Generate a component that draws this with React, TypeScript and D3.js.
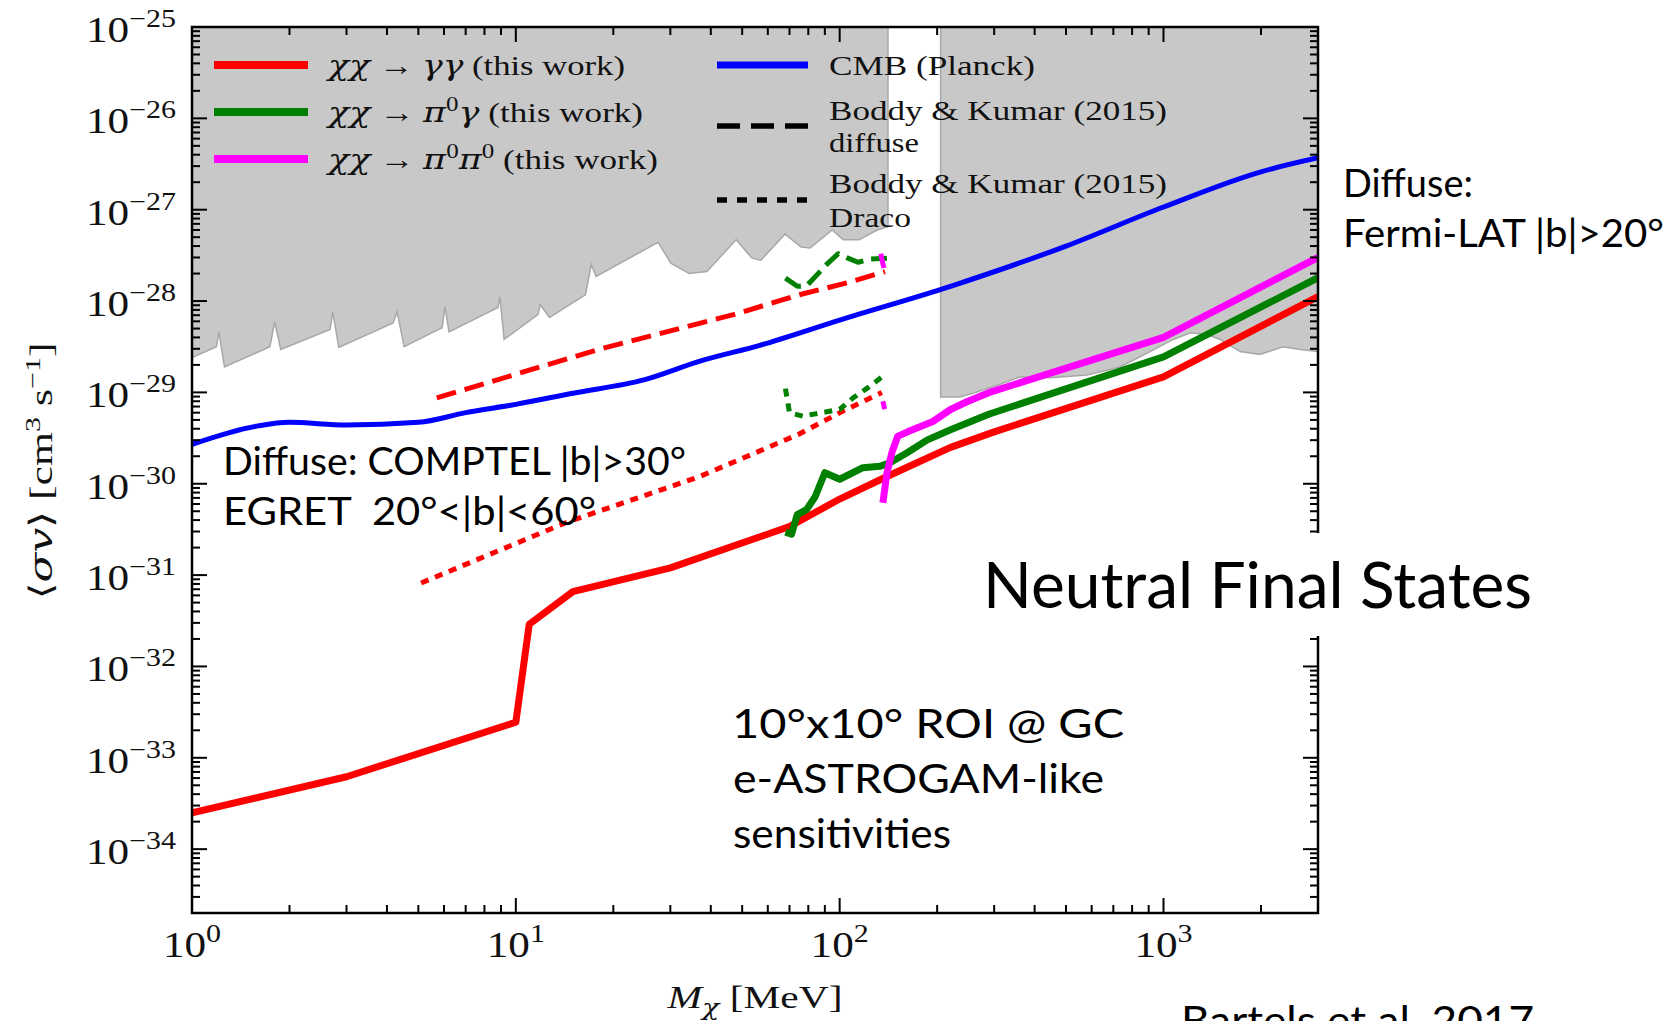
import * as d3 from "d3";

// chi chi -> gamma gamma (this work)
const ggMass = [1, 3, 10, 11, 15, 30, 70, 100, 140, 220, 300, 1000, 3000];
const ggSigma = [2.5e-34, 6.2e-34, 2.45e-33, 2.9e-32, 6.6e-32, 1.2e-31, 3.4e-31, 6.8e-31, 1.2e-30, 2.5e-30, 3.7e-30, 1.48e-29, 1.12e-28];

// chi chi -> pi0 gamma (this work)
const pgMass = [68, 71, 74, 79, 84, 90, 100, 118, 133, 143, 162, 186, 220, 290, 1000, 3000];
const pgSigma = [2.95e-31, 2.8e-31, 4.6e-31, 5.2e-31, 7.2e-31, 1.32e-30, 1.12e-30, 1.5e-30, 1.55e-30, 1.7e-30, 2.2e-30, 3.0e-30, 3.9e-30, 5.8e-30, 2.45e-29, 1.8e-28];

// chi chi -> pi0 pi0 (this work)
const ppMass = [136, 140, 145, 151, 162, 177, 194, 220, 247, 290, 1000, 3000];
const ppSigma = [6.2e-31, 1.32e-30, 2.2e-30, 3.3e-30, 3.7e-30, 4.2e-30, 4.8e-30, 6.5e-30, 7.9e-30, 1.0e-29, 4.0e-29, 3.0e-28];

// CMB (Planck)
const cmbMass = [1, 1.6, 2, 3, 5, 7, 10, 15, 25, 37, 57, 100, 220, 500, 1000, 2000, 3000];
const cmbSigma = [2.7e-30, 4.3e-30, 4.7e-30, 4.4e-30, 4.7e-30, 6.0e-30, 7.4e-30, 9.8e-30, 1.38e-29, 2.2e-29, 3.3e-29, 6.2e-29, 1.45e-28, 4.0e-28, 1.07e-27, 2.6e-27, 3.7e-27];

// Boddy & Kumar (2015) diffuse
const bkDiffGgMass = [5.7, 18, 47, 75, 108, 138];
const bkDiffGgSigma = [8.7e-30, 2.95e-29, 7.1e-29, 1.17e-28, 1.62e-28, 2.1e-28];
const bkDiffPgMass = [68, 74, 79, 91, 99, 106, 114, 124, 140];
const bkDiffPgSigma = [1.78e-28, 1.45e-28, 1.46e-28, 2.5e-28, 3.3e-28, 2.95e-28, 2.66e-28, 2.88e-28, 2.95e-28];
const bkDiffPpMass = [134, 135.5, 137];
const bkDiffPpSigma = [3.3e-28, 2.7e-28, 2.3e-28];

// Boddy & Kumar (2015) Draco
const bkDracoGgMass = [5.1, 14.4, 37, 75, 102, 135];
const bkDracoGgSigma = [8.2e-32, 3.8e-31, 1.2e-30, 3.5e-30, 6.2e-30, 1.0e-29];
const bkDracoPgMass = [68, 70, 77, 88, 100, 110, 122, 136];
const bkDracoPgSigma = [1.1e-29, 6.0e-30, 5.5e-30, 6.0e-30, 6.5e-30, 8.7e-30, 1.12e-29, 1.5e-29];
const bkDracoPpMass = [136, 137, 138];
const bkDracoPpSigma = [8.0e-30, 7.1e-30, 6.4e-30];

// excluded regions: COMPTEL / EGRET diffuse and Fermi-LAT diffuse (lower edges)
const comptelMass = [1, 1.19, 1.21, 1.26, 1.74, 1.8, 1.88, 2.67, 2.72, 2.84, 4.18, 4.3, 4.52, 5.92, 6.04, 6.22, 8.81, 8.93, 9.2, 11.7, 11.9, 12.7, 16.4, 17.1, 17.7, 27.5, 30.1, 34.3, 38.9, 47.9, 53.6, 57.1, 67.8, 76, 81.1, 94.8, 102.6, 114.8, 130.6, 141];
const comptelSigma = [2.4e-29, 3.16e-29, 4.6e-29, 1.9e-29, 3.16e-29, 5.9e-29, 2.95e-29, 4.9e-29, 7.6e-29, 3.1e-29, 5.75e-29, 7.6e-29, 3.16e-29, 5.1e-29, 8.7e-29, 4.6e-29, 8.5e-29, 1.12e-28, 3.8e-29, 7.1e-29, 9.1e-29, 6.6e-29, 1.17e-28, 2.5e-28, 1.86e-28, 4.4e-28, 2.6e-28, 2.0e-28, 2.1e-28, 4.7e-28, 2.95e-28, 2.8e-28, 5.4e-28, 3.9e-28, 3.8e-28, 6.0e-28, 4.7e-28, 4.7e-28, 6.0e-28, 6.5e-28];
const fermiMass = [205, 235, 258, 313, 361, 446, 581, 734, 909, 1072, 1209, 1364, 1496, 1725, 1986, 2339, 2642, 3000];
const fermiSigma = [8.9e-30, 8.9e-30, 9.8e-30, 1.23e-29, 1.48e-29, 1.45e-29, 1.55e-29, 1.9e-29, 2.8e-29, 3.8e-29, 4.5e-29, 4.3e-29, 3.8e-29, 2.8e-29, 2.6e-29, 3.16e-29, 2.95e-29, 2.8e-29];

const xDomain = [1, 3000];
const yDomain = [2e-35, 1e-25];

const serif = "'Liberation Serif', 'DejaVu Serif', serif";
const greek = "'DejaVu Serif', serif";
const sans = "Lato, 'Open Sans', sans-serif";

const W = 1680;
const H = 1021;
const left = 192;
const right = 1318;
const top = 27;
const bottom = 913;

type Scale = d3.ScaleLogarithmic<number, number>;

function Series({ mass, sigma, x, y, color, width, dash, curve }: {
  mass: number[]; sigma: number[]; x: Scale; y: Scale; color: string; width: number; dash?: string; curve?: d3.CurveFactory;
}) {
  const d = d3.line<number>()
    .x((m) => x(m))
    .y((_, i) => y(sigma[i]))
    .curve(curve ?? d3.curveLinear)(mass);
  return (
    <path d={d ?? ""} fill="none" stroke={color} strokeWidth={width}
      strokeDasharray={dash} strokeLinejoin="round" strokeLinecap="butt" />
  );
}

function Region({ mass, sigma, x, y }: { mass: number[]; sigma: number[]; x: Scale; y: Scale }) {
  const d = d3.area<number>()
    .x((m) => x(m))
    .y0(y(yDomain[1]))
    .y1((_, i) => y(sigma[i]))(mass);
  return <path d={d ?? ""} fill="#c8c8c8" stroke="#a8a8a8" strokeWidth={1.5} />;
}

const isMajor = (v: number) => Math.abs(Math.log10(v) - Math.round(Math.log10(v))) < 1e-6;
const expLabel = (v: number) => {
  const e = Math.round(Math.log10(v));
  return e < 0 ? `\u2212${-e}` : `${e}`;
};

function Frame({ x, y }: { x: Scale; y: Scale }) {
  const major = 15;
  const minor = 8;
  const xt = x.ticks();
  const yt = y.ticks();
  return (
    <g>
      <g stroke="#000" strokeWidth={2}>
        {xt.map((t) => {
          const len = isMajor(t) ? major : minor;
          const px = x(t);
          return (
            <g key={`xt-${t}`}>
              <line x1={px} x2={px} y1={bottom} y2={bottom - len} />
              <line x1={px} x2={px} y1={top} y2={top + len} />
            </g>
          );
        })}
        {yt.map((t) => {
          const len = isMajor(t) ? major : minor;
          const py = y(t);
          return (
            <g key={`yt-${t}`}>
              <line x1={left} x2={left + len} y1={py} y2={py} />
              <line x1={right} x2={right - len} y1={py} y2={py} />
            </g>
          );
        })}
      </g>
      <rect x={left} y={top} width={right - left} height={bottom - top} fill="none" stroke="#000" strokeWidth={2.5} />
      <g fontFamily={serif} fontSize={36} fill="#111">
        {xt.filter(isMajor).map((t) => (
          <text key={`xl-${t}`} transform={`translate(${x(t)},957) scale(1.2,1)`} textAnchor="middle">
            10<tspan dy={-15} fontSize={25}>{expLabel(t)}</tspan>
          </text>
        ))}
        {yt.filter(isMajor).map((t) => (
          <text key={`yl-${t}`} transform={`translate(${left - 16},${y(t) + 15}) scale(1.2,1)`} textAnchor="end">
            10<tspan dy={-15} fontSize={25}>{expLabel(t)}</tspan>
          </text>
        ))}
      </g>
    </g>
  );
}

function Legend() {
  const gk = { fontStyle: "italic" as const, fontFamily: greek };
  return (
    <g fontFamily={serif} fontSize={28} fill="#111">
      <line x1={214} x2={308} y1={65} y2={65} stroke="#ff0000" strokeWidth={8} />
      <line x1={214} x2={308} y1={112} y2={112} stroke="#008000" strokeWidth={8} />
      <line x1={214} x2={308} y1={159} y2={159} stroke="#ff00ff" strokeWidth={8} />
      <text x={328} y={75} textLength={297} lengthAdjust="spacingAndGlyphs">
        <tspan {...gk}>χχ</tspan> → <tspan {...gk}>γγ</tspan> (this work)
      </text>
      <text x={328} y={122} textLength={315} lengthAdjust="spacingAndGlyphs">
        <tspan {...gk}>χχ</tspan> → <tspan {...gk}>π</tspan><tspan dy={-11} fontSize={20}>0</tspan><tspan dy={11} {...gk}>γ</tspan> (this work)
      </text>
      <text x={328} y={169} textLength={330} lengthAdjust="spacingAndGlyphs">
        <tspan {...gk}>χχ</tspan> → <tspan {...gk}>π</tspan><tspan dy={-11} fontSize={20}>0</tspan><tspan dy={11} {...gk}>π</tspan><tspan dy={-11} fontSize={20}>0</tspan><tspan dy={11}> (this work)</tspan>
      </text>

      <line x1={717} x2={808} y1={65} y2={65} stroke="#0000ff" strokeWidth={7} />
      <line x1={717} x2={808} y1={126} y2={126} stroke="#000" strokeWidth={5.5} strokeDasharray="23 11" />
      <line x1={717} x2={808} y1={200} y2={200} stroke="#000" strokeWidth={5.5} strokeDasharray="10 10" />
      <text x={829} y={75} textLength={206} lengthAdjust="spacingAndGlyphs">CMB (Planck)</text>
      <text x={829} y={120} textLength={338} lengthAdjust="spacingAndGlyphs">Boddy &amp; Kumar (2015)</text>
      <text x={829} y={152} textLength={90} lengthAdjust="spacingAndGlyphs">diffuse</text>
      <text x={829} y={193} textLength={338} lengthAdjust="spacingAndGlyphs">Boddy &amp; Kumar (2015)</text>
      <text x={829} y={227} textLength={82} lengthAdjust="spacingAndGlyphs">Draco</text>
    </g>
  );
}

function Note({ x, y, size, width, children }: { x: number; y: number; size: number; width: number; children: string }) {
  return (
    <text x={x} y={y} fontFamily={sans} fontSize={size} fill="#000" textLength={width}
      lengthAdjust="spacingAndGlyphs" style={{ whiteSpace: "pre" }}>
      {children}
    </text>
  );
}

export default function App() {
  const x = d3.scaleLog().domain(xDomain).range([left, right]);
  const y = d3.scaleLog().domain(yDomain).range([bottom, top]);

  return (
    <svg width={W} height={H} viewBox={`0 0 ${W} ${H}`}
      style={{ position: "absolute", left: 0, top: 0, background: "#fff", display: "block" }}>
      <defs>
        <clipPath id="plot-clip">
          <rect x={left} y={top} width={right - left} height={bottom - top} />
        </clipPath>
      </defs>

      <g clipPath="url(#plot-clip)">
        <Region mass={comptelMass} sigma={comptelSigma} x={x} y={y} />
        <Region mass={fermiMass} sigma={fermiSigma} x={x} y={y} />

        <Series mass={cmbMass} sigma={cmbSigma} x={x} y={y} color="#0000ff" width={5} curve={d3.curveMonotoneX} />

        <Series mass={bkDiffGgMass} sigma={bkDiffGgSigma} x={x} y={y} color="#ff0000" width={5} dash="20 9" />
        <Series mass={bkDiffPgMass} sigma={bkDiffPgSigma} x={x} y={y} color="#008000" width={5} dash="18 8" />
        <Series mass={bkDiffPpMass} sigma={bkDiffPpSigma} x={x} y={y} color="#ff00ff" width={5} dash="18 8" />

        <Series mass={bkDracoGgMass} sigma={bkDracoGgSigma} x={x} y={y} color="#ff0000" width={5} dash="8 7" />
        <Series mass={bkDracoPgMass} sigma={bkDracoPgSigma} x={x} y={y} color="#008000" width={5} dash="8 7" />
        <Series mass={bkDracoPpMass} sigma={bkDracoPpSigma} x={x} y={y} color="#ff00ff" width={5} dash="8 7" />

        <Series mass={ggMass} sigma={ggSigma} x={x} y={y} color="#ff0000" width={7} />
        <Series mass={pgMass} sigma={pgSigma} x={x} y={y} color="#008000" width={7} />
        <Series mass={ppMass} sigma={ppSigma} x={x} y={y} color="#ff00ff" width={7} />
      </g>

      <Frame x={x} y={y} />
      <Legend />

      <text transform="translate(52,471) rotate(-90)" textAnchor="middle" fontFamily={serif}
        fontSize={32} fill="#111" textLength={257} lengthAdjust="spacingAndGlyphs">
        ⟨<tspan fontStyle="italic" fontFamily={greek}>σv</tspan>⟩ [cm<tspan dy={-12} fontSize={22}>3</tspan><tspan dy={12}> s</tspan><tspan dy={-12} fontSize={22}>−1</tspan><tspan dy={12}>]</tspan>
      </text>
      <text x={755} y={1008} textAnchor="middle" fontFamily={serif} fontSize={32} fill="#111"
        textLength={175} lengthAdjust="spacingAndGlyphs">
        <tspan fontStyle="italic">M</tspan><tspan dy={7} fontSize={22} fontStyle="italic" fontFamily={greek}>χ</tspan><tspan dy={-7}> [MeV]</tspan>
      </text>

      <Note x={1343} y={197} size={38} width={130}>Diffuse:</Note>
      <Note x={1343} y={247} size={38} width={321}>Fermi-LAT |b|&gt;20°</Note>
      <Note x={223} y={475} size={38} width={463}>Diffuse: COMPTEL |b|&gt;30°</Note>
      <Note x={223} y={525} size={38} width={373}>EGRET  20°&lt;|b|&lt;60°</Note>

      <rect x={975} y={533} width={570} height={103} fill="#fff" />
      <Note x={983} y={608} size={64} width={549}>Neutral Final States</Note>

      <Note x={732} y={738} size={40} width={392}>10°x10° ROI @ GC</Note>
      <Note x={733} y={793} size={40} width={371}>e-ASTROGAM-like</Note>
      <Note x={733} y={848} size={40} width={218}>sensitivities</Note>
      <Note x={1181} y={1035} size={40} width={353}>Bartels et al. 2017</Note>
    </svg>
  );
}
